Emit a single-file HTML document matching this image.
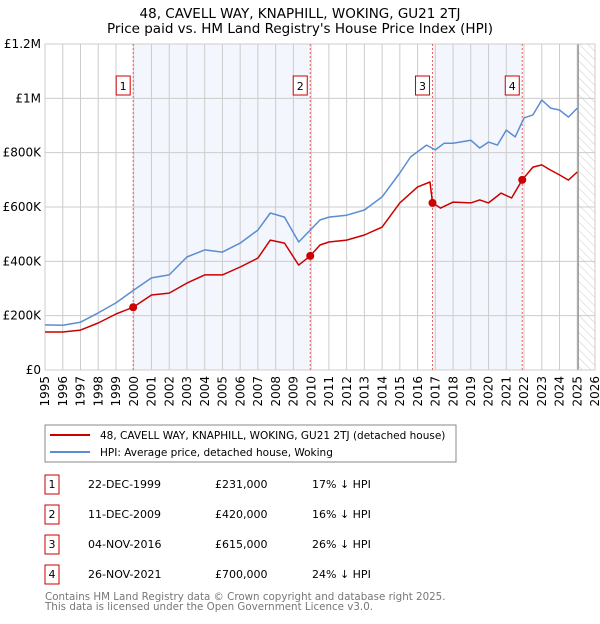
<!DOCTYPE html>
<html><head><meta charset="utf-8"><style>
body{margin:0;background:#fff;font-family:"DejaVu Sans","Liberation Sans",sans-serif;}
svg text{font-family:"DejaVu Sans","Liberation Sans",sans-serif;}
</style></head><body>
<svg id="chart" width="600" height="620" xmlns="http://www.w3.org/2000/svg">
<defs><pattern id="hatch" width="6" height="6" patternUnits="userSpaceOnUse" patternTransform="rotate(-45)"><line x1="0" y1="0" x2="0" y2="6" stroke="#ccc" stroke-width="1"/></pattern></defs>
<text x="300" y="18" text-anchor="middle" font-size="13.5" fill="#000">48, CAVELL WAY, KNAPHILL, WOKING, GU21 2TJ</text>
<text x="300" y="33" text-anchor="middle" font-size="13.5" fill="#000">Price paid vs. HM Land Registry's House Price Index (HPI)</text>
<g id="plot"></g>
<g>
<rect x="45" y="425" width="411" height="37" fill="#fff" stroke="#888"/>
<line x1="50" y1="435" x2="90" y2="435" stroke="#cc0000" stroke-width="2"/>
<text x="100" y="439" font-size="10.5">48, CAVELL WAY, KNAPHILL, WOKING, GU21 2TJ (detached house)</text>
<line x1="50" y1="452" x2="90" y2="452" stroke="#5b8dd0" stroke-width="2"/>
<text x="100" y="456" font-size="10.5">HPI: Average price, detached house, Woking</text>
</g>
<g id="table" font-size="11"></g>
<text x="45" y="600" font-size="10.3" fill="#777">Contains HM Land Registry data © Crown copyright and database right 2025.</text>
<text x="45" y="610" font-size="10.3" fill="#777">This data is licensed under the Open Government Licence v3.0.</text>
</svg>
<script>
const hpiYears=[1995,1996,1997,1998,1999,2000,2001,2002,2003,2004,2005,2006,2007,2007.7,2008.5,2009.3,2009.95,2010.5,2011,2012,2013,2014,2015,2015.6,2016.5,2017,2017.5,2018,2019,2019.5,2020,2020.5,2021,2021.5,2022,2022.5,2023,2023.5,2024,2024.5,2025];
const hpiValues=[166000,165000,176000,210000,247000,294000,339000,350000,416000,442000,434000,467000,515000,578000,563000,471000,515000,552000,563000,570000,589000,637000,725000,784000,828000,810000,835000,835000,846000,817000,839000,828000,883000,858000,928000,939000,994000,964000,957000,931000,964000];
const priceYears=[1995,1996,1997,1998,1999,1999.97,2001,2002,2003,2004,2005,2006,2007,2007.7,2008.5,2009.3,2009.95,2010.5,2011,2012,2013,2014,2015,2016,2016.7,2016.84,2017.3,2018,2019,2019.5,2020,2020.7,2021.3,2021.9,2022.5,2023,2023.5,2024,2024.5,2025];
const priceValues=[140000,140000,147000,173000,206000,231000,276000,283000,320000,350000,350000,379000,412000,478000,467000,386000,420000,460000,471000,478000,497000,526000,615000,674000,692000,615000,596000,618000,615000,626000,615000,651000,633000,700000,747000,755000,736000,718000,699000,729000];
const saleLabels=["1","2","3","4"];
const saleYears=[1999.97,2009.95,2016.84,2021.9];
const saleValues=[231000,420000,615000,700000];
const saleDates=["22-DEC-1999","11-DEC-2009","04-NOV-2016","26-NOV-2021"];
const salePrices=["£231,000","£420,000","£615,000","£700,000"];
const saleDiffs=["17% ↓ HPI","16% ↓ HPI","26% ↓ HPI","24% ↓ HPI"];
const yTicks=[0,200000,400000,600000,800000,1000000,1200000];
const yTickLabels=["£0","£200K","£400K","£600K","£800K","£1M","£1.2M"];
const xTicks=[1995,1996,1997,1998,1999,2000,2001,2002,2003,2004,2005,2006,2007,2008,2009,2010,2011,2012,2013,2014,2015,2016,2017,2018,2019,2020,2021,2022,2023,2024,2025,2026];
const X0=45,X1=595,Y0=370,Y1=44;
const xs=y=>X0+(y-1995)/(2026-1995)*(X1-X0);
const ys=v=>Y0-v/1200000*(Y0-Y1);
const NS="http://www.w3.org/2000/svg";
const g=document.getElementById('plot');
function mk(tag,attrs,parent){const e=document.createElementNS(NS,tag);for(const k in attrs)e.setAttribute(k,attrs[k]);(parent||g).appendChild(e);return e;}
let r;
r=mk('rect',{x:X0,y:Y1,width:X1-X0,height:Y0-Y1,fill:'#fff'});


r=mk('rect',{x:xs(saleYears[0]),y:Y1,width:xs(saleYears[1])-xs(saleYears[0]),height:Y0-Y1,fill:'#eef2fc',opacity:0.7});


r=mk('rect',{x:xs(saleYears[2]),y:Y1,width:xs(saleYears[3])-xs(saleYears[2]),height:Y0-Y1,fill:'#eef2fc',opacity:0.7});


r=mk('rect',{x:xs(2025.05),y:Y1,width:X1-xs(2025.05),height:Y0-Y1,fill:'url(#hatch)'});


xTicks.forEach((t,i)=>{
 const l=mk('line',{x1:xs(t),x2:xs(t),y1:Y1,y2:Y0,stroke:'#ccc','stroke-width':1});
 
 
 const tx=mk('text',{x:xs(t),y:Y0+6,'font-size':12,'text-anchor':'end',transform:`rotate(-90 ${xs(t)} ${Y0+6})`,dy:'0.35em'});
 tx.textContent=t;
 
 
});
yTicks.forEach((t,i)=>{
 const l=mk('line',{x1:X0,x2:X1,y1:ys(t),y2:ys(t),stroke:'#ccc','stroke-width':1});
 
 
 const tx=mk('text',{x:X0-4,y:ys(t)+4,'font-size':12,'text-anchor':'end'});
 tx.textContent=yTickLabels[i];
 
 
});
r=mk('line',{x1:xs(2025.05),x2:xs(2025.05),y1:Y1,y2:Y0,stroke:'#999','stroke-width':1.5});


r=mk('rect',{x:X0,y:Y1,width:X1-X0,height:Y0-Y1,fill:'none',stroke:'#ccc'});


saleYears.forEach((y,i)=>{
 const l=mk('line',{x1:xs(y),x2:xs(y),y1:Y1,y2:Y0,stroke:'#f06060','stroke-dasharray':'2,2','stroke-width':1});
 
 
});
const pts=(xa,va)=>xa.map((x,i)=>xs(x).toFixed(1)+','+ys(va[i]).toFixed(1)).join(' ');
r=mk('polyline',{points:pts(hpiYears,hpiValues),fill:'none',stroke:'#5b8dd0','stroke-width':1.5,'stroke-linejoin':'round'});


r=mk('polyline',{points:pts(priceYears,priceValues),fill:'none',stroke:'#cc0000','stroke-width':1.5,'stroke-linejoin':'round'});


saleYears.forEach((y,i)=>{
 const c=mk('circle',{cx:xs(y),cy:ys(saleValues[i]),r:4,fill:'#cc0000'});
 
 
 const b=mk('rect',{x:xs(y)-17,y:76,width:14,height:19,fill:'#fff',stroke:'#cc0000'});
 
 
 const t=mk('text',{x:xs(y)-10,y:90,'font-size':11,'text-anchor':'middle'});
 t.textContent=saleLabels[i];
 
 
});
const tb=document.getElementById('table');
saleLabels.forEach((s,i)=>{
 const cy=483+i*30;
 const b=mk('rect',{x:45,y:cy-8,width:14,height:19,fill:'#fff',stroke:'#cc0000'},tb);
 
 
 const vals=[[52,s,'middle'],[88,saleDates[i],'start'],[215,salePrices[i],'start'],[312,saleDiffs[i],'start']];
 const names=['table-index','table-date','table-price','table-hpi-diff'];
 vals.forEach((v,j)=>{
  const t=mk('text',{x:v[0],y:cy+5,'text-anchor':v[2],'font-size':11},tb);
  t.textContent=v[1];
  
  
 });
});
</script>
</body></html>
